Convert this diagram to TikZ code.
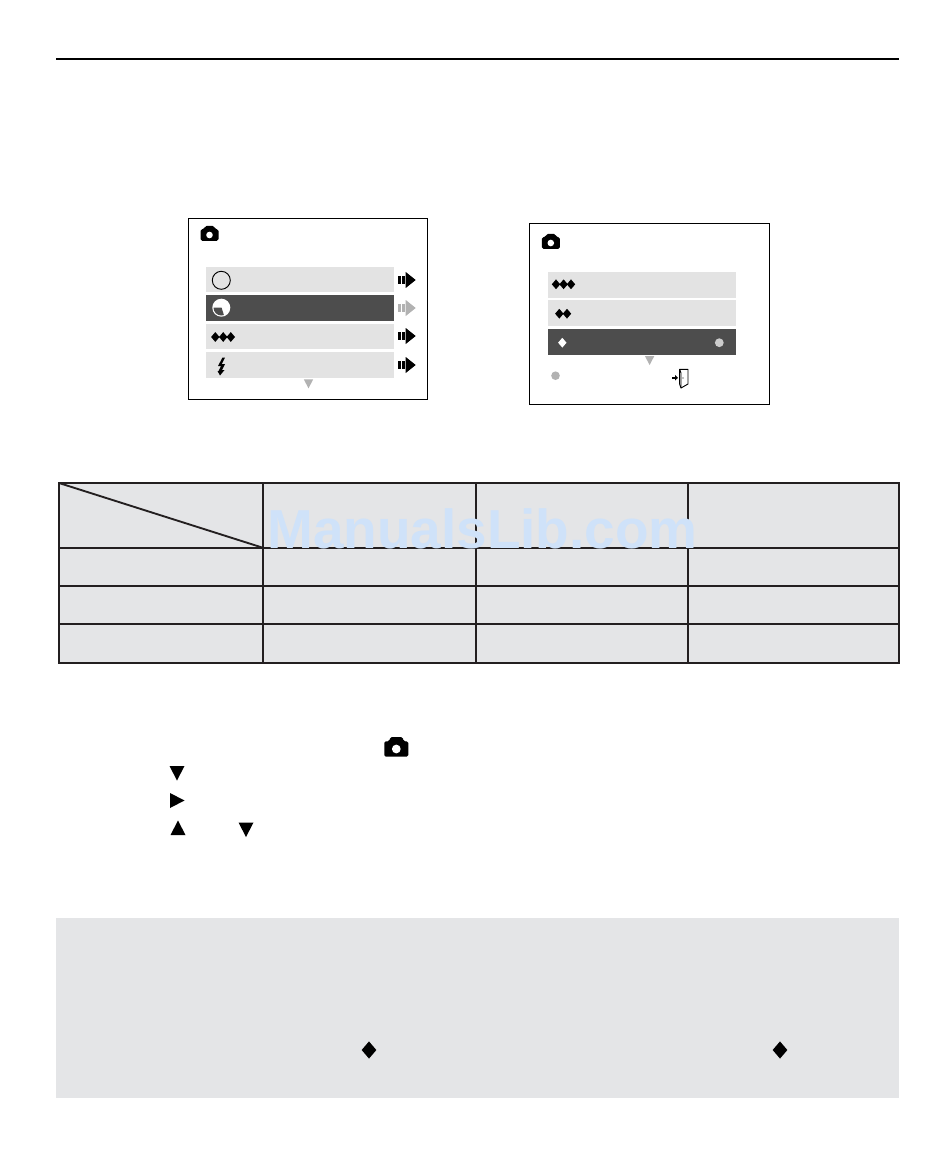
\documentclass[tikz,border=0pt]{standalone}
\usepackage{fontspec}
\setmainfont{Liberation Sans}
\definecolor{ink}{HTML}{231F20}
\definecolor{panel}{HTML}{E4E5E7}
\definecolor{rowlight}{HTML}{E3E3E3}
\definecolor{rowdark}{HTML}{4D4D4D}
\definecolor{hint}{HTML}{B2B2B2}
\definecolor{mark}{HTML}{CFE2F9}
\tikzset{
  x=0.75pt,y=-0.75pt,
  rule/.style={draw=ink,line width=1.6pt},
  framebox/.style={draw=black,line width=0.75pt},
  rowl/.style={fill=rowlight},
  rowd/.style={fill=rowdark},
  camera/.pic={
    \fill[black,rounded corners=1.2] (-9,-4.3) -- (-5.2,-4.3) -- (-4.6,-7.5) -- (4.8,-7.5) -- (5.4,-4.3) -- (9,-4.3) -- (9,7.3) -- (-9,7.3) -- cycle;
    \fill[white] (0,1.5) circle (3.3);
  },
  gem/.pic={\fill[pic actions] (-4.2,0) -- (0,-4.9) -- (4.2,0) -- (0,4.9) -- cycle;},
  go/.pic={
    \fill[pic actions] (-17.5,-3.8) rectangle (-14.5,3.8);
    \fill[pic actions] (-13.5,-3.8) rectangle (-10.5,3.8);
    \fill[pic actions] (-10,-8) -- (0,0) -- (-10,8) -- cycle;
  },
  tridown/.pic={\fill[pic actions] (-7.5,-7) -- (7.5,-7) -- (0,7.5) -- cycle;},
  triup/.pic={\fill[pic actions] (-7.5,7) -- (7.5,7) -- (0,-7.5) -- cycle;},
  triright/.pic={\fill[pic actions] (-7,-7.5) -- (7.5,0) -- (-7,7.5) -- cycle;},
  smalldown/.pic={\fill[hint] (-4.7,-4.5) -- (4.7,-4.5) -- (0,4.5) -- cycle;},
}
\begin{document}
\begin{tikzpicture}
\useasboundingbox (0,0) rectangle (950,1169);
\fill[white] (0,0) rectangle (950,1169);
% top rule
\draw[black,line width=1.5pt] (56,59) -- (899,59);
% left screen
\draw[framebox] (188.5,218.5) rectangle (427.7,399.5);
\pic at (209.5,233.5) {camera};
\fill[rowl] (206.3,266.7) rectangle (394.3,292);
\fill[rowd] (206.3,295) rectangle (394.3,320.5);
\fill[rowl] (206.3,323.5) rectangle (394.3,349);
\fill[rowl] (206.3,352) rectangle (394.3,377.5);
\draw[black,line width=0.7pt] (221.3,280.3) circle (9);
\fill[white] (221.3,307.7) circle (9);
\begin{scope}
  \clip (221.3,307.7) circle (7.8);
  \fill[rowdark] (212,307.7) -- (221.6,307.7) -- (224.8,318) -- (212,318) -- cycle;
\end{scope}
\foreach \px in {215.3,223.2,230.8} \pic[black] at (\px,337) {gem};
\fill[black] (222.5,357.5) -- (218,366) -- (221,366) -- (218.5,371) -- (217.5,371) -- (220,375.5) -- (224.5,370) -- (222,370) -- (225,364) -- (221.8,364) -- (225,357.5) -- cycle;
\pic[black] at (415.7,280) {go};
\pic[hint] at (415.7,308) {go};
\pic[black] at (415.7,336) {go};
\pic[black] at (415.7,365) {go};
\pic at (308.5,383.8) {smalldown};
% right screen
\draw[framebox] (529.3,223.5) rectangle (769.7,404.3);
\pic at (550.8,241.5) {camera};
\fill[rowl] (547.7,272) rectangle (736,297.7);
\fill[rowl] (547.7,300.2) rectangle (736,326);
\fill[rowd] (547.7,329) rectangle (736,354.5);
\foreach \px in {556,563.6,571} \pic[black] at (\px,284.3) {gem};
\foreach \px in {559.3,567} \pic[black] at (\px,313.7) {gem};
\pic[white] at (562.3,342.7) {gem};
\fill[rowlight!90!black] (719.3,342.7) circle (4.4);
\pic at (649.6,360.5) {smalldown};
\fill[hint] (555.5,375.7) circle (4.3);
\fill[black] (671.5,377) rectangle (675,378.6);
\fill[black] (675,375) -- (678,377.8) -- (675,380.6) -- cycle;
\draw[black,line width=0.7pt,line join=round] (679.6,369.3) -- (688,369.3) -- (688,384) -- (681,388) -- (679.6,384) -- cycle;
\draw[black,line width=0.7pt] (679.6,369.3) -- (681,373) -- (681,388);
\fill[black] (683,378) circle (0.7);
% table
\fill[panel] (59,483) rectangle (899,662.7);
\draw[rule] (59,483) rectangle (899,662.7);
\draw[rule] (59,547.7) -- (899,547.7);
\draw[rule] (59,585.7) -- (899,585.7);
\draw[rule] (59,624) -- (899,624);
\draw[rule] (262.7,483) -- (262.7,662.7);
\draw[rule] (476,483) -- (476,662.7);
\draw[rule] (688,483) -- (688,662.7);
\draw[ink,line width=1.4pt] (59,483) -- (262.7,547.7);
% watermark
\node (wm) [anchor=base west,inner sep=0pt,text=mark,font=\fontsize{41.2}{41.2}\bfseries\selectfont] at (267,548) {ManualsLib.com};
% step marks
\pic[scale=1.33,transform shape] at (396.3,747) {camera};
\pic at (177,773) {tridown};
\pic at (177,800.5) {triright};
\pic at (178,828) {triup};
\pic at (246,829.5) {tridown};
% note panel
\fill[panel] (56,918) rectangle (899,1098);
\pic[black,scale=1.75,transform shape] at (369,1050) {gem};
\pic[black,scale=1.75,transform shape] at (780,1050) {gem};
\end{tikzpicture}
\end{document}
